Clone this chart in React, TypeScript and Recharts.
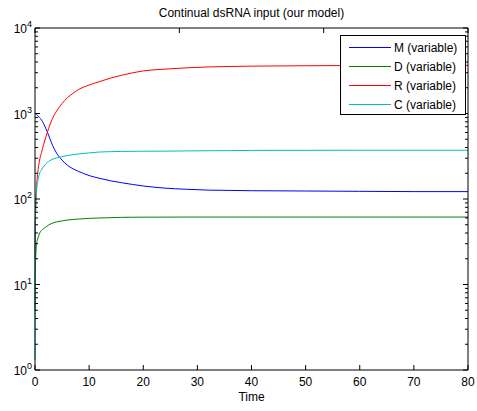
import { LineChart, Line, XAxis, YAxis } from 'recharts'

const time = [0, 0.05, 0.15, 0.3, 0.5, 0.8, 1.2, 1.6, 2, 2.5, 3, 4, 5, 6, 7, 8, 10, 12, 14, 16, 18, 20, 24, 28, 32, 36, 40, 50, 60, 70, 80]
const mVals = [1000, 997, 990, 977, 944, 902, 841, 759, 668, 562, 462, 343, 285, 248, 226, 211, 188, 174, 163, 155, 148, 142, 134, 130, 127, 126, 125, 124, 123, 122, 122]
const dVals = [5, 14, 22, 30, 34, 39, 43, 45, 47, 49.5, 51.5, 54, 55.5, 56.8, 57.6, 58.3, 59.3, 60, 60.5, 61, 61.2, 61.3, 61.4, 61.5, 61.5, 61.5, 61.5, 61.5, 61.5, 61.5, 61.5]
const rVals = [20, 45, 85, 140, 200, 275, 350, 435, 530, 660, 810, 1070, 1310, 1530, 1720, 1900, 2150, 2370, 2600, 2800, 2990, 3150, 3300, 3420, 3500, 3550, 3580, 3620, 3640, 3650, 3660]
const cVals = [1.3, 45, 85, 130, 160, 195, 220, 240, 258, 275, 287, 302, 313, 322, 330, 336, 346, 355, 358, 360, 361, 362, 363, 365, 367, 368, 370, 371, 372, 372, 372]

const xTicks = [0, 10, 20, 30, 40, 50, 60, 70, 80]
const decades = [1, 10, 100, 1000, 10000]
const yTicks = decades.flatMap((d, i) => (i < decades.length - 1 ? [1, 2, 3, 4, 5, 6, 7, 8, 9].map(k => k * d) : [d]))

const series = [
  { key: 'M', name: 'M (variable)', color: '#0000ff' },
  { key: 'D', name: 'D (variable)', color: '#008000' },
  { key: 'R', name: 'R (variable)', color: '#ff0000' },
  { key: 'C', name: 'C (variable)', color: '#00bfbf' },
]

const data = time.map((t, i) => ({ t, M: mVals[i], D: dVals[i], R: rVals[i], C: cVals[i] }))

const FONT = 'Arial, "Liberation Sans", Helvetica, sans-serif'

const isMajor = (v: number) => Math.abs(Math.log10(v) - Math.round(Math.log10(v))) < 1e-6

const LeftTick = (props: any) => {
  const { x, y, payload } = props
  const v = payload.value
  const major = isMajor(v)
  return (
    <g>
      <line x1={x} x2={x + (major ? 5 : 3)} y1={y} y2={y} stroke="#000" />
      {major && (
        <text x={x - 3} y={y + 5} textAnchor="end" fontSize={12} fontFamily={FONT} fill="#000">
          10<tspan dy={-6} fontSize={9}>{Math.round(Math.log10(v))}</tspan>
        </text>
      )}
    </g>
  )
}

const RightTick = (props: any) => {
  const { x, y, payload } = props
  const major = isMajor(payload.value)
  return <line x1={x} x2={x - (major ? 5 : 3)} y1={y} y2={y} stroke="#000" />
}

const BottomTick = (props: any) => {
  const { x, y, payload } = props
  return (
    <g>
      <line x1={x} x2={x} y1={y} y2={y - 5} stroke="#000" />
      <text x={x} y={y + 16} textAnchor="middle" fontSize={12} fontFamily={FONT} fill="#000">{payload.value}</text>
    </g>
  )
}

const TopTick = (props: any) => {
  const { x, y } = props
  return <line x1={x} x2={x} y1={y} y2={y + 5} stroke="#000" />
}

export default function App() {
  return (
    <div style={{ position: 'absolute', left: 0, top: 0, width: 477, height: 411, background: '#fff', fontFamily: FONT }}>
      <div style={{ position: 'absolute', left: 35, width: 433, top: 6, textAlign: 'center', fontSize: 12 }}>
        Continual dsRNA input (our model)
      </div>
      <LineChart width={477} height={411} data={data} margin={{ top: 27, right: 8, bottom: 11, left: 0 }}>
        <XAxis xAxisId="b" dataKey="t" type="number" domain={[0, 80]} ticks={xTicks} interval={0}
          tickLine={false} tickSize={0} tickMargin={0} tick={<BottomTick />} height={30} axisLine={{ stroke: '#000' }} />
        <XAxis xAxisId="t" orientation="top" type="number" domain={[0, 80]} ticks={xTicks} interval={0}
          tickLine={false} tickSize={0} tickMargin={0} tick={<TopTick />} height={1} axisLine={{ stroke: '#000' }} />
        <YAxis yAxisId="l" scale="log" type="number" domain={[1, 10000]} ticks={yTicks} interval={0} allowDataOverflow
          tickLine={false} tickSize={0} tickMargin={0} tick={<LeftTick />} width={35} axisLine={{ stroke: '#000' }} />
        <YAxis yAxisId="r" orientation="right" scale="log" type="number" domain={[1, 10000]} ticks={yTicks} interval={0} allowDataOverflow
          tickLine={false} tickSize={0} tickMargin={0} tick={<RightTick />} width={1} axisLine={{ stroke: '#000' }} />
        {series.map(s => (
          <Line key={s.key} xAxisId="b" yAxisId="l" type="monotone" dataKey={s.key} name={s.name}
            stroke={s.color} strokeWidth={1} dot={false} isAnimationActive={false} />
        ))}
      </LineChart>
      <div style={{ position: 'absolute', left: 340, top: 35, width: 124, height: 78, border: '1px solid #000', background: '#fff', fontSize: 12 }}>
        <svg width={124} height={78} style={{ position: 'absolute', left: 0, top: 0 }}>
          {series.map((s, i) => (
            <line key={s.key} x1={8} x2={50} y1={11.5 + i * 19} y2={11.5 + i * 19} stroke={s.color} strokeWidth={1} />
          ))}
        </svg>
        {series.map((s, i) => (
          <div key={s.key} style={{ position: 'absolute', left: 53, top: 4 + i * 19, lineHeight: '16px', whiteSpace: 'nowrap' }}>{s.name}</div>
        ))}
      </div>
      <div style={{ position: 'absolute', left: 35, width: 433, top: 390, textAlign: 'center', fontSize: 12 }}>Time</div>
    </div>
  )
}
